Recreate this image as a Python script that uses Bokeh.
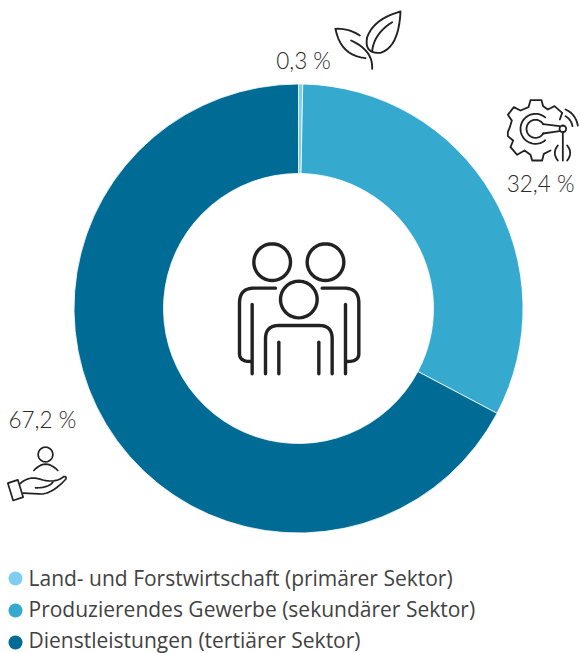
from math import pi, cos, sin
from bokeh.plotting import figure
from bokeh.embed import file_html
from bokeh.resources import INLINE
from bokeh.core.properties import value
from bokeh.models import Range1d

categories = ["Land- und Forstwirtschaft (primärer Sektor)",
              "Produzierendes Gewerbe (sekundärer Sektor)",
              "Dienstleistungen (tertiärer Sektor)"]
shares = [0.3, 32.4, 67.2]
colors = ["#7FCEEF", "#36A9CF", "#006B94"]
share_labels = ["0,3 %", "32,4 %", "67,2 %"]

W, H = 580, 653
INK = "#222222"
LABEL = "#2a2a2a"
TXT = "#424242"


def Y(y):
    return H - y


def q(p0, c, p1, n=10):
    return [((1 - t) ** 2 * p0[0] + 2 * (1 - t) * t * c[0] + t ** 2 * p1[0],
             (1 - t) ** 2 * p0[1] + 2 * (1 - t) * t * c[1] + t ** 2 * p1[1])
            for t in [i / n for i in range(n + 1)]]


def arc(cx, cy, r, a0, a1, n=48):
    return [(cx + r * cos((a0 + (a1 - a0) * i / n) * pi / 180),
             cy + r * sin((a0 + (a1 - a0) * i / n) * pi / 180)) for i in range(n + 1)]


def conv(strokes, ox, oy, s):
    return [[(ox + x / s, oy + y / s) for x, y in st] for st in strokes]


people = conv([
    arc(140, 95, 55, 0, 360), arc(300, 95, 55, 0, 360), arc(220, 207, 55, 0, 360),
    [(150, 173)] + q((85, 173), (42, 173), (42, 218)) + q((42, 370), (42, 393), (75, 393)),
    [(80, 222), (80, 430)],
    [(290, 173)] + q((357, 173), (400, 173), (400, 218)) + q((400, 370), (400, 393), (365, 393)),
    [(360, 222), (360, 430)],
    [(120, 430)] + q((120, 325), (120, 285), (160, 285)) + q((282, 285), (320, 285), (320, 325)) + [(320, 430)],
    [(160, 335), (160, 430)], [(280, 335), (280, 430)],
], 225, 230, 3)

leaf = conv([
    q((210, 18), (130, 40), (110, 95)) + q((110, 95), (100, 145), (150, 142)) + q((150, 142), (205, 125), (210, 18)),
    q((125, 137), (130, 85), (185, 50)),
    q((15, 70), (55, 68), (88, 90)),
    q((15, 70), (30, 150), (105, 158)),
    q((62, 105), (128, 135), (125, 190)),
], 330, 5, 3)

gear = conv([
    [(178, 72), (185, 52), (162, 32), (142, 42), (128, 32), (123, 14), (90, 14), (84, 35), (60, 45), (40, 35),
     (22, 58), (34, 75), (28, 95), (22, 110), (22, 122), (38, 135), (30, 155), (50, 178), (72, 165), (90, 178),
     (95, 195), (125, 195), (130, 175), (150, 165)],
    arc(105, 100, 45, -50, -310),
    arc(105, 100, 27, 30, 330),
    [(128, 86), (177, 92)], [(128, 114), (177, 107)],
    arc(187, 100, 10, 0, 360, 16),
    [(187, 110), (187, 195)],
    q((195, 62), (212, 72), (216, 92)),
    q((195, 42), (225, 55), (232, 90)),
    q((172, 150), (154, 172), (172, 195)),
    q((200, 150), (218, 172), (200, 195)),
], 500, 95, 3)

hand = conv([
    arc(135, 42, 22, 0, 360),
    q((100, 90), (135, 52), (172, 90)),
    [(22, 128), (52, 118), (68, 170), (38, 180), (22, 128)],
    q((58, 130), (85, 105), (118, 116)) + q((118, 116), (165, 130), (190, 108)) + q((190, 108), (200, 108), (195, 117))
    + q((195, 117), (150, 165), (115, 160)) + [(68, 158)],
    q((105, 142), (145, 142), (157, 125)),
], 0, 440, 3)

p = figure(width=W, height=H, output_backend="svg", toolbar_location=None,
           x_range=Range1d(0, W), y_range=Range1d(0, H), min_border=0,
           outline_line_color=None, background_fill_color="white", border_fill_color="white")
p.axis.visible = False
p.grid.visible = False

# donut
total = sum(shares)
start = pi / 2
for v, c in zip(shares, colors):
    end = start - 2 * pi * v / total
    p.annular_wedge(x=298, y=Y(308), inner_radius=135, outer_radius=224.5, start_angle=start, end_angle=end,
                    direction="clock", fill_color=c, line_color="white", line_width=0.8)
    start = end

# icons
for icon, lw in [(people, 3.4), (leaf, 1.9), (gear, 1.8), (hand, 1.7)]:
    p.multi_line(xs=[[pt[0] for pt in st] for st in icon],
                 ys=[[Y(pt[1]) for pt in st] for st in icon],
                 line_color=INK, line_width=lw, line_cap="round", line_join="round")

# share labels
p.text(x=[303, 574, 8], y=[Y(60), Y(183), Y(419)], text=share_labels,
       text_align=["center", "right", "left"], text_baseline="alphabetic",
       text_font=value("Lato Light"), text_font_size="22.5px", text_color=LABEL)

# legend
legend_y = [Y(578), Y(610), Y(642)]
p.scatter(x=[15] * 3, y=legend_y, size=14, marker="circle", fill_color=colors, line_color=None)
p.text(x=[28] * 3, y=[Y(577), Y(608), Y(639)], text=categories, text_align="left", text_baseline="alphabetic",
       text_font=value("Open Sans"), text_font_size="21px", text_color=TXT)

open("out.html", "w").write(file_html(p, INLINE))
